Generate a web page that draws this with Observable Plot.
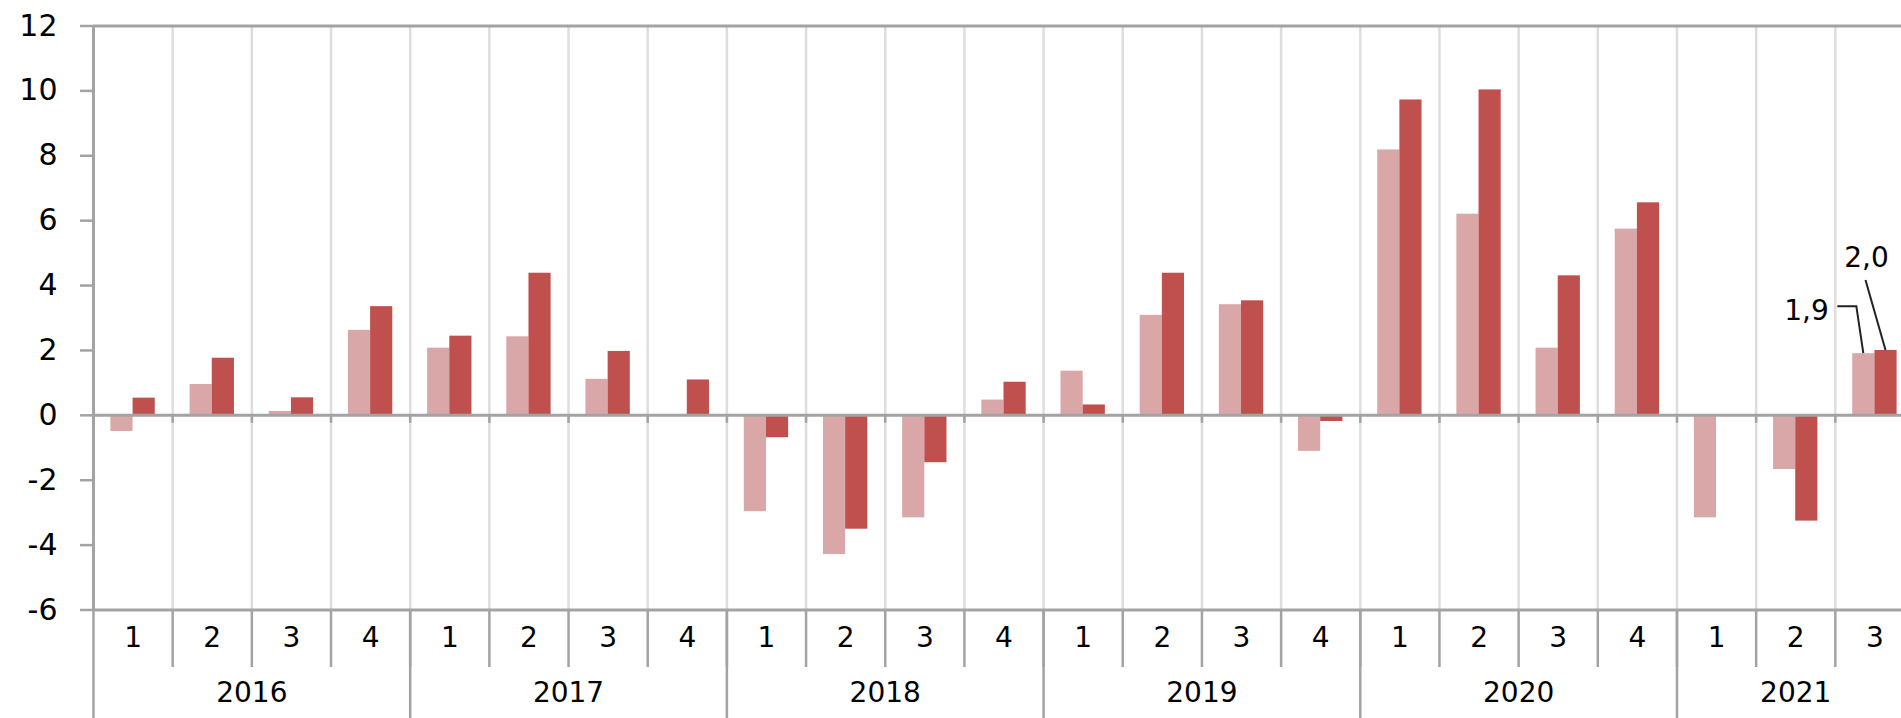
<!DOCTYPE html>
<html>
<head>
<meta charset="utf-8">
<script src="https://cdn.jsdelivr.net/npm/d3@7"></script>
<script src="https://cdn.jsdelivr.net/npm/@observablehq/plot@0.6"></script>
<style>
html, body { margin: 0; padding: 0; background: #fff; overflow: hidden; }
#chart { width: 1901px; height: 718px; overflow: hidden; }
</style>
</head>
<body>
<div id="chart"></div>
<script>
// ---- data ----
const years = [2016, 2017, 2018, 2019, 2020, 2021];
const quartersPerYear = [4, 4, 4, 4, 4, 3];
const quarterLabels = ["1","2","3","4", "1","2","3","4", "1","2","3","4",
                       "1","2","3","4", "1","2","3","4", "1","2","3"];
const seriesLight = [-0.5, 0.95, 0.12, 2.62,
                     2.07, 2.42, 1.11, 0,
                     -2.97, -4.29, -3.16, 0.47,
                     1.36, 3.08, 3.41, -1.11,
                     8.18, 6.2, 2.07, 5.74,
                     -3.16, -1.67, 1.9];
const seriesDark = [0.53, 1.76, 0.54, 3.35,
                    2.44, 4.38, 1.97, 1.09,
                    -0.69, -3.51, -1.46, 1.02,
                    0.32, 4.38, 3.53, -0.19,
                    9.72, 10.03, 4.3, 6.55,
                    0, -3.26, 2.0];
const yTicks = [-6, -4, -2, 0, 2, 4, 6, 8, 10, 12];

// ---- derived tables ----
const periods = quarterLabels.map((q, i) => ({ i, q }));
const nPeriods = periods.length;
let start = 0;
const yearSpans = years.map((y, k) => {
  const s = { year: String(y), start, n: quartersPerYear[k] };
  start += quartersPerYear[k];
  return s;
});
const lightRows = seriesLight.map((v, i) => ({ i, value: v })).filter(d => d.value !== 0);
const darkRows = seriesDark.map((v, i) => ({ i, value: v })).filter(d => d.value !== 0);
const last = nPeriods - 1;
const fmt = v => v.toFixed(1).replace(".", ",");
const yMin = d3.min(yTicks), yMax = d3.max(yTicks);
const boundaries = d3.range(1, nPeriods + 1);

const gridGray = "#dedede";
const axisGray = "#a3a3a3";
const lightRed = "#d9a7a7";
const darkRed = "#c0504d";

const chart = Plot.plot({
  width: 1914,
  height: 718,
  marginLeft: 93,
  marginRight: 0,
  marginTop: 25.5,
  marginBottom: 108.5,
  style: { fontFamily: "DejaVu Sans, Verdana, sans-serif", fontSize: "28px", color: "#000", background: "#fff", maxWidth: "none", overflow: "visible" },
  x: { domain: [0, nPeriods], axis: null },
  y: { domain: [yMin, yMax] },
  marks: [
    // vertical gridlines at quarter boundaries
    Plot.ruleX(boundaries, { stroke: gridGray, strokeWidth: 2.5 }),
    // quarter separators in the label area
    Plot.ruleX(boundaries, { y1: () => yMin, y2: () => yMin, insetBottom: -57.5, stroke: axisGray, strokeWidth: 2.5 }),
    // year separators and left axis extending to bottom
    Plot.ruleX(yearSpans, { x: "start", y1: () => yMin, y2: () => yMin, insetBottom: -110, stroke: axisGray, strokeWidth: 2.5 }),
    Plot.ruleX([0], { stroke: axisGray, strokeWidth: 3 }),
    // tick marks on the zero line
    Plot.ruleX(boundaries, { y1: () => 0, y2: () => 0, insetBottom: -8, stroke: axisGray, strokeWidth: 2.5 }),
    // bars
    Plot.rect(lightRows, { x1: d => d.i + 0.22, x2: d => d.i + 0.5, y1: () => 0, y2: "value", fill: lightRed }),
    Plot.rect(darkRows, { x1: d => d.i + 0.5, x2: d => d.i + 0.78, y1: () => 0, y2: "value", fill: darkRed }),
    // horizontal lines: top, zero, bottom
    Plot.ruleY([yMax, 0, yMin], { stroke: axisGray, strokeWidth: 3 }),
    // y axis
    Plot.axisY({ ticks: yTicks, tickSize: 13, tickPadding: 23, tickFormat: d => String(d), label: null, stroke: axisGray, strokeWidth: 2.5, fill: "#000", fontSize: 30 }),
    // quarter labels
    Plot.text(periods, { x: d => d.i + 0.5, text: "q", frameAnchor: "bottom", dy: 36.5, fontSize: 28, fill: "#000" }),
    // year labels
    Plot.text(yearSpans, { x: d => d.start + d.n / 2, text: "year", frameAnchor: "bottom", dy: 92, fontSize: 28, fill: "#000" }),
    // value labels for the last period
    Plot.text([{ i: last, value: seriesLight[last] }], { x: d => d.i + 0.36, y: "value", text: d => fmt(d.value), textAnchor: "end", dx: -35, dy: -43, fontSize: 28, fill: "#000" }),
    Plot.text([{ i: last, value: seriesDark[last] }], { x: d => d.i + 0.64, y: "value", text: d => fmt(d.value), textAnchor: "middle", dx: -19.5, dy: -92, fontSize: 28, fill: "#000" }),
    // leader lines
    (index, scales) => {
      const g = d3.create("svg:g").attr("fill", "none").attr("stroke", "#222").attr("stroke-width", 2);
      const lx = scales.x(last + 0.36), ly = scales.y(seriesLight[last]);
      g.append("path").attr("d", `M${lx},${ly}L${lx - 7},${ly - 47}H${lx - 26}`);
      const dxp = scales.x(last + 0.64), dyp = scales.y(seriesDark[last]);
      g.append("path").attr("d", `M${dxp},${dyp}L${dxp - 20},${dyp - 70}`);
      return g.node();
    }
  ]
});
document.getElementById("chart").appendChild(chart);
</script>
</body>
</html>
